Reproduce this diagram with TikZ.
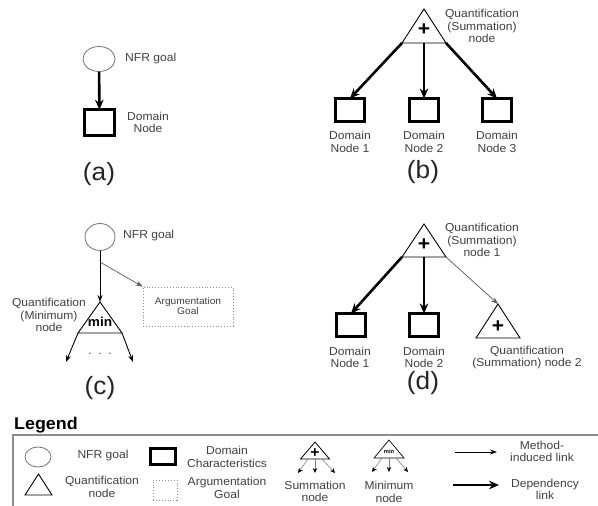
\documentclass[tikz,border=0pt]{standalone}
\usepackage{fontspec}
\setmainfont[FakeStretch=1.05]{Liberation Sans}
\usetikzlibrary{shapes.geometric,arrows.meta}

\begin{document}
\begin{tikzpicture}[x=1pt,y=-1pt]
    % Define styles
    \tikzset{
        nfrnode/.style={ellipse, draw=black!55, line width=0.8pt, minimum width=32pt, minimum height=25pt, inner sep=0pt},
        domnode/.style={rectangle, draw, line width=3.2pt, minimum width=29.5pt, minimum height=23pt, inner sep=0pt, outer sep=0pt},
        quantnode/.style={isosceles triangle, isosceles triangle stretches, shape border rotate=90, draw, line width=0.9pt, minimum width=44pt, minimum height=34pt, inner sep=0pt, outer sep=0pt, anchor=apex},
        argbox/.style={rectangle, draw=black!45, dotted, line width=0.9pt, inner sep=0pt},
        lbl/.style={font=\fontsize{11.5}{12.5}\selectfont, text=black!75, align=center, inner sep=0pt},
        sublbl/.style={font=\fontsize{25}{28}\selectfont, text=black!85, inner sep=0pt},
        plussign/.style={font=\fontsize{20}{20}\selectfont\bfseries, inner sep=0pt},
        deparrow/.style={-{Stealth[length=10pt, width=8.5pt]}, line width=2.6pt},
        methodarrow/.style={-{Stealth[length=7pt, width=5pt]}, line width=0.7pt, black!65},
        thinarrow/.style={-{Stealth[length=7pt, width=5pt]}, line width=0.9pt},
        legarrow/.style={-{Stealth[length=5pt, width=4.5pt, color=black]}, line width=0.6pt, black!50},
    }

    \useasboundingbox (0,0) rectangle (598,506);

    % (a)
    \node[nfrnode] (nfrA) at (99,59) {};
    \node[lbl, anchor=west] (nfrAl) at (125,59) {NFR goal};
    \node[domnode, minimum height=25.5pt] (domA) at (99.5,122.5) {};
    \node[lbl] (domAl) at (148,122.5) {Domain\\Node};
    \draw[deparrow] (nfrA) -- (domA);
    \node[sublbl] (capA) at (99,174) {(a)};

    % (b)
    \node[quantnode] (sumB) at (424,9) {};
    \node[plussign] (sumBp) at (424,30) {+};
    \node[lbl] (sumBl) at (482,26) {Quantification\\(Summation)\\node};
    \foreach \n/\x in {1/350, 2/424, 3/497} {
        \node[domnode] (b\n) at (\x,110) {};
        \node[lbl] (bl\n) at (\x,142) {Domain\\Node \n};
    }
    \draw[deparrow] (sumB.left corner) -- (b1.north);
    \draw[deparrow] (sumB.lower side) -- (b2.north);
    \draw[deparrow] (sumB.right corner) -- (b3.north);
    \node[sublbl] (capB) at (423,172) {(b)};

    % (c)
    \node[nfrnode, minimum width=30pt, minimum height=27pt] (nfrC) at (100,237) {};
    \node[lbl, anchor=west] (nfrCl) at (123,236) {NFR goal};
    \node[quantnode, minimum height=31pt] (minC) at (100,302) {};
    \node[font=\fontsize{13}{13}\selectfont\bfseries, inner sep=0pt] (minCt) at (100,322) {min};
    \node[lbl] (minCl) at (49,315) {Quantification\\(Minimum)\\node};
    \node[argbox, minimum width=90pt, minimum height=39pt] (argC) at (188,306.5) {};
    \node[lbl, font=\fontsize{9.7}{10.5}\selectfont] (argCl) at (188,306) {Argumentation\\Goal};
    \coordinate (splitC) at (100,262);
    \coordinate (minCa) at (66,362);
    \coordinate (minCb) at (133,362);
    \draw[thinarrow] (nfrC) -- (minC.apex);
    \draw[methodarrow] (splitC) -- (argC.north west);
    \draw[thinarrow] (minC.left corner) -- (minCa);
    \draw[thinarrow] (minC.right corner) -- (minCb);
    \node[lbl] (dotsC) at (100,354) {.\ \ .\ \ .};
    \node[sublbl] (capC) at (100,388) {(c)};

    % (d)
    \node[quantnode, minimum height=33pt] (sumD) at (424,224) {};
    \node[plussign] (sumDp) at (424,245) {+};
    \node[lbl] (sumDl) at (482,240) {Quantification\\(Summation)\\node 1};
    \node[domnode] (d1) at (351,325) {};
    \node[domnode] (d2) at (424,325) {};
    \node[quantnode] (sumD2) at (498,304) {};
    \node[plussign] (sumD2p) at (498,327) {+};
    \node[lbl] (d1l) at (350,357.5) {Domain\\Node 1};
    \node[lbl] (d2l) at (424,357.5) {Domain\\Node 2};
    \node[lbl] (sumD2l) at (527,357.5) {Quantification\\(Summation) node 2};
    \draw[deparrow] (sumD.left corner) -- (d1.north);
    \draw[deparrow] (sumD.lower side) -- (d2.north);
    \draw[methodarrow] (sumD.right corner) -- (sumD2.apex);
    \node[sublbl] (capD) at (423,383) {(d)};

    % Legend
    \node[font=\fontsize{17}{20}\selectfont\bfseries, anchor=west, inner sep=0pt] (legT) at (14,425) {Legend};
    \draw[black!45, line width=1.4pt] (13,510) -- (13,435) -- (600,435);

    \node[nfrnode, minimum width=26pt, minimum height=20pt] (legNfr) at (38,457) {};
    \node[lbl] (legNfrl) at (103,455.5) {NFR goal};
    \node[quantnode, minimum width=27pt, minimum height=21pt] (legQ) at (38.5,474) {};
    \node[lbl] (legQl) at (102,487) {Quantification\\node};
    \node[domnode, minimum width=25pt, minimum height=16pt] (legDom) at (163,456.5) {};
    \node[lbl] (legDoml) at (227,457) {Domain\\Characteristics};
    \node[argbox, minimum width=24pt, minimum height=20pt] (legArg) at (165,490) {};
    \node[lbl] (legArgl) at (227,488) {Argumentation\\Goal};

    \node[quantnode, minimum width=29pt, minimum height=17pt, line width=0.8pt] (legSum) at (315,442) {};
    \node[plussign, font=\fontsize{15}{15}\selectfont\bfseries] (legSump) at (315,453) {+};
    \foreach \i/\dx/\ex in {1/-7/298, 2/0/315, 3/7/335} {
        \coordinate (legSumE\i) at (\ex,473);
        \draw[legarrow] ([xshift=\dx pt]legSum.lower side) -- (legSumE\i);
    }
    \node[lbl] (legSuml) at (315,491.5) {Summation\\node};

    \node[quantnode, minimum width=30pt, minimum height=18pt, line width=0.7pt] (legMin) at (389,440) {};
    \node[font=\fontsize{5.5}{5.5}\selectfont\bfseries, inner sep=0pt] (legMint) at (389,452) {min};
    \foreach \i/\dx/\ex in {1/-7/372, 2/0/389, 3/7/408} {
        \coordinate (legMinE\i) at (\ex,472);
        \draw[legarrow] ([xshift=\dx pt]legMin.lower side) -- (legMinE\i);
    }
    \node[lbl] (legMinl) at (389,492) {Minimum\\node};

    \coordinate (mA) at (455,452);
    \coordinate (mB) at (497,452);
    \draw[methodarrow, black] (mA) -- (mB);
    \node[lbl] (legMl) at (542,451.5) {Method-\\induced link};
    \coordinate (dA) at (453,485);
    \coordinate (dB) at (499,485);
    \draw[deparrow] (dA) -- (dB);
    \node[lbl] (legDl) at (545,489.5) {Dependency\\link};
\end{tikzpicture}
\end{document}
